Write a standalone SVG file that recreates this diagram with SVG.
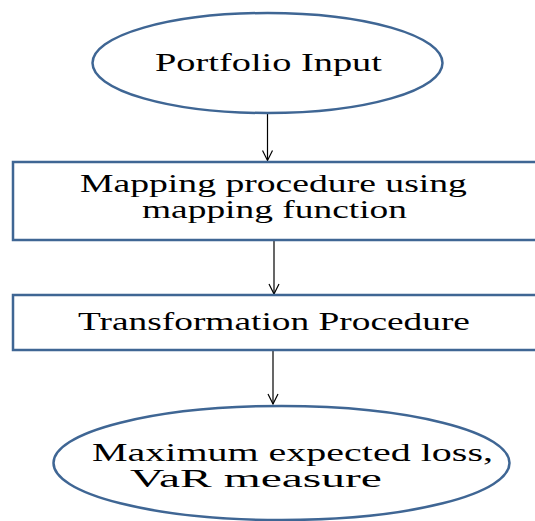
<svg xmlns="http://www.w3.org/2000/svg" width="535" height="521" viewBox="0 0 535 521">
<defs>
<style>
.shape{fill:#ffffff;stroke:#3f6694;stroke-width:2.5}
.lbl{font-family:"Liberation Serif","Times New Roman",serif;font-size:25.5px;fill:#000000}
.conn{stroke:#000000;stroke-width:1.2;fill:none}
</style>
<marker id="arr" viewBox="0 0 12 12" refX="11" refY="6" markerWidth="12" markerHeight="12" markerUnits="userSpaceOnUse" orient="auto">
<path d="M1,1 L11,6 L1,11" fill="none" stroke="#000000" stroke-width="1.2"/>
</marker>
</defs>
<rect width="535" height="521" fill="#ffffff"/>
<g id="connectors">
<line class="conn" x1="267.5" y1="114" x2="267.5" y2="160.5" marker-end="url(#arr)"/>
<line class="conn" x1="274" y1="241" x2="274" y2="294" marker-end="url(#arr)"/>
<line class="conn" x1="273" y1="351" x2="273" y2="404" marker-end="url(#arr)"/>
</g>
<g id="portfolio-input">
<ellipse class="shape" cx="267.5" cy="63" rx="175" ry="50"/>
<text class="lbl" transform="translate(155,71) scale(1.43,1)" textLength="158.7" lengthAdjust="spacingAndGlyphs">Portfolio Input</text>
</g>
<g id="mapping-procedure">
<rect class="shape" x="13" y="162" width="540" height="78"/>
<text class="lbl" transform="translate(80,192) scale(1.43,1)" textLength="270.6" lengthAdjust="spacingAndGlyphs">Mapping procedure using</text>
<text class="lbl" transform="translate(142,218) scale(1.43,1)" textLength="185.3" lengthAdjust="spacingAndGlyphs">mapping function</text>
</g>
<g id="transformation-procedure">
<rect class="shape" x="13" y="295" width="540" height="55"/>
<text class="lbl" transform="translate(78,330) scale(1.43,1)" textLength="274.1" lengthAdjust="spacingAndGlyphs">Transformation Procedure</text>
</g>
<g id="var-measure">
<ellipse class="shape" cx="281.5" cy="463" rx="228" ry="57"/>
<text class="lbl" transform="translate(92,461) scale(1.43,1)" textLength="280.4" lengthAdjust="spacingAndGlyphs">Maximum expected loss,</text>
<text class="lbl" transform="translate(130,487) scale(1.43,1)" textLength="176.2" lengthAdjust="spacingAndGlyphs">VaR measure</text>
</g>
</svg>
